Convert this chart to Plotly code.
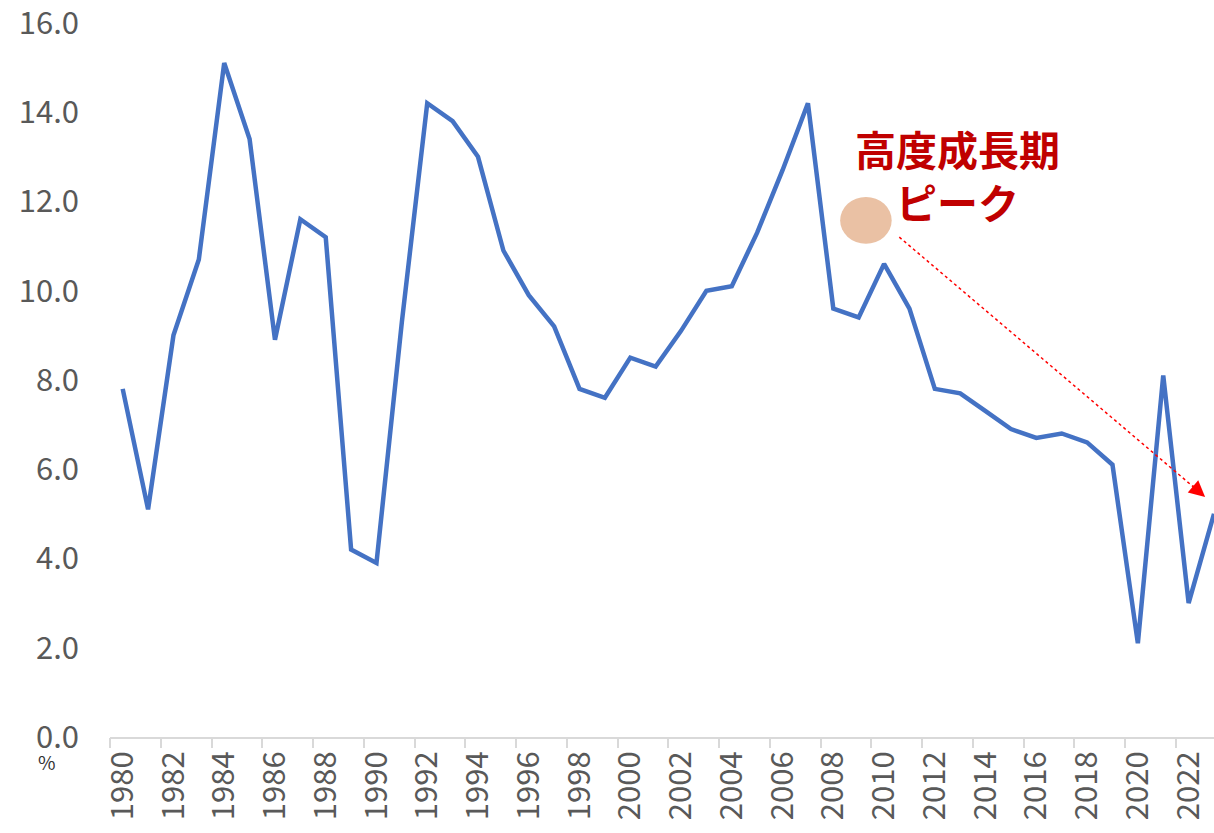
import plotly.graph_objects as go

# 実質GDP成長率（%）
years = list(range(1980, 2024))
growth = [7.8, 5.1, 9.0, 10.7, 15.1, 13.4, 8.9, 11.6, 11.2, 4.2,
          3.9, 9.3, 14.2, 13.8, 13.0, 10.9, 9.9, 9.2, 7.8, 7.6,
          8.5, 8.3, 9.1, 10.0, 10.1, 11.3, 12.7, 14.2, 9.6, 9.4,
          10.6, 9.6, 7.8, 7.7, 7.3, 6.9, 6.7, 6.8, 6.6, 6.1,
          2.1, 8.1, 3.0, 5.0]
label_years = [y for y in years if y % 2 == 0]
y_ticks = [0, 2, 4, 6, 8, 10, 12, 14, 16]

FONT = "Noto Sans CJK JP"
GRAY = "#595959"

fig = go.Figure()
fig.add_trace(go.Scatter(x=years, y=growth, mode="lines",
                         line=dict(color="#4472C4", width=4.5),
                         showlegend=False, hoverinfo="x+y"))
# 目盛り線だけの補助軸（カテゴリ境界）
fig.add_trace(go.Scatter(x=[label_years[0] - 0.5], y=[None], xaxis="x2",
                         showlegend=False, hoverinfo="skip"))

fig.update_layout(
    width=1214, height=833,
    margin=dict(l=110, r=0, t=22, b=96, autoexpand=False),
    plot_bgcolor="white", paper_bgcolor="white",
    font=dict(family=FONT, color=GRAY),
    xaxis=dict(range=[1979.5, 2023.0], tickvals=label_years,
               ticktext=[str(y) for y in label_years],
               tickangle=-90, tickfont=dict(size=31, color=GRAY),
               showgrid=False, zeroline=False, showline=True,
               linecolor="#D9D9D9", linewidth=2, ticks="", automargin=False),
    xaxis2=dict(range=[1979.5, 2023.0], overlaying="x",
                tickvals=[y - 0.5 for y in label_years],
                showticklabels=False, ticks="outside", ticklen=10,
                tickcolor="#D9D9D9", tickwidth=2, showgrid=False,
                zeroline=False, showline=False, side="bottom", automargin=False),
    yaxis=dict(range=[0, 16.02], tickvals=y_ticks,
               ticktext=[f"{v:.1f}" for v in y_ticks],
               tickfont=dict(size=31, color=GRAY),
               showgrid=False, zeroline=False, showline=False,
               ticklabelstandoff=30, ticklabeloverflow="allow",
               automargin=False),
)

fig.add_annotation(text="%", xref="paper", yref="paper", x=-0.057, y=-0.034,
                   showarrow=False, font=dict(size=19, color="#333333"),
                   xanchor="center", yanchor="middle")
fig.add_annotation(text="<b>高度成長期<br>ピーク</b>", x=2012.9, y=12.6,
                   showarrow=False, font=dict(size=41, color="#C00000"))

fig.add_shape(type="circle", x0=2008.27, x1=2010.3, y0=11.05, y1=12.1,
              fillcolor="#EAC1A4", line=dict(width=0), layer="above")
fig.add_shape(type="line", x0=2010.6, y0=11.2, x1=2022.3, y1=5.55,
              line=dict(color="#FF0000", width=1.5, dash="dot"))
fig.add_annotation(x=2022.65, y=5.38, ax=2022.1, ay=5.65, axref="x", ayref="y",
                   text="", showarrow=True, arrowhead=2, arrowsize=1.6,
                   arrowwidth=2, arrowcolor="#FF0000")

# ページ既定の余白を消して 1214x833 にぴったり収める
fig.write_html("out.html", config={"displayModeBar": False},
               post_script="document.body.style.margin='0';"
                           "document.body.style.overflow='hidden';")
